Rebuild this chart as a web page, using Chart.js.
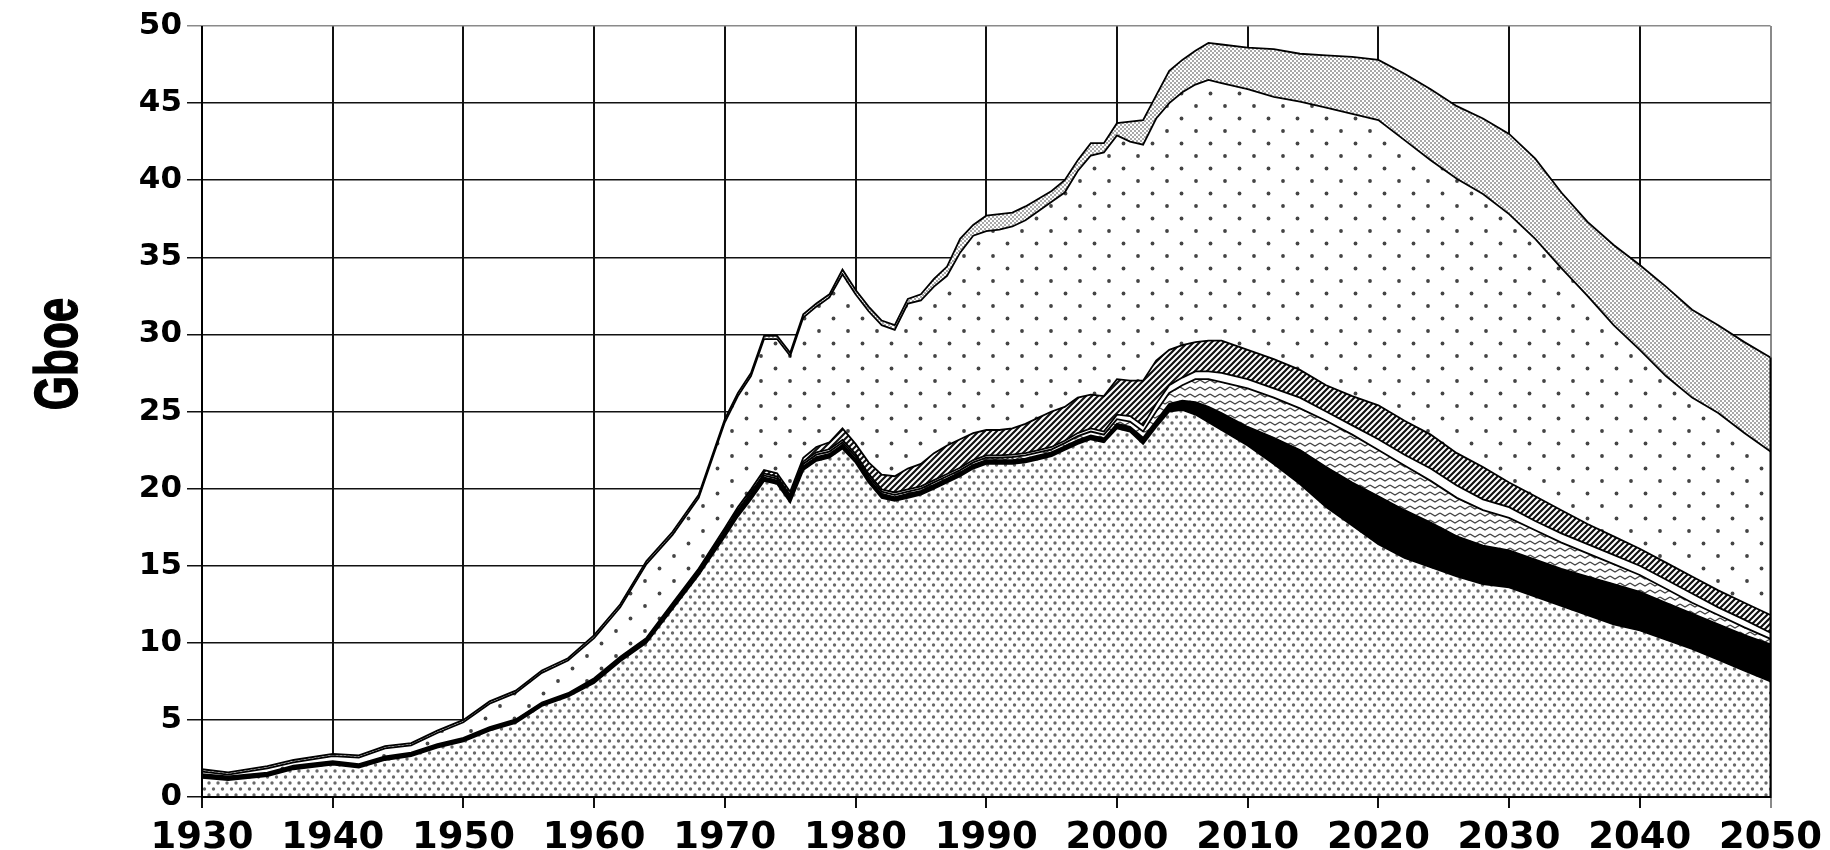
<!DOCTYPE html>
<html>
<head>
<meta charset="utf-8">
<title>Gboe</title>
<script src="https://cdn.jsdelivr.net/npm/chart.js@4.4.1/dist/chart.umd.min.js"></script>
<style>
  html, body { margin: 0; padding: 0; background: #fff; overflow: hidden; }
  #wrap { width: 1830px; height: 900px; position: relative; }
</style>
</head>
<body>
<div id="wrap"><canvas id="chart"></canvas></div>
<script>
// years shared by every layer (annual where the curves are jagged)
const years = [1930, 1932, 1935, 1937, 1940, 1942, 1944, 1946, 1948, 1950,
  1952, 1954, 1956, 1958, 1960, 1962, 1964, 1966, 1968,
  1970, 1971, 1972, 1973, 1974, 1975, 1976, 1977, 1978, 1979,
  1980, 1981, 1982, 1983, 1984, 1985, 1986, 1987, 1988, 1989,
  1990, 1991, 1992, 1993, 1994, 1995, 1996, 1997, 1998, 1999,
  2000, 2001, 2002, 2003, 2004, 2005, 2006, 2007, 2008,
  2010, 2012, 2014, 2016, 2018, 2020, 2022, 2024, 2026, 2028, 2030,
  2032, 2034, 2036, 2038, 2040, 2042, 2044, 2046, 2048, 2050];

// upper edge of each band, Gboe (bottom band first)
const denseTop = [1.25, 1.1, 1.35, 1.8, 2.1, 1.9, 2.4, 2.65, 3.2, 3.6, 4.3, 4.8, 5.9, 6.5, 7.4, 8.8, 10.0, 12.2, 14.4,
  16.9, 18.2, 19.3, 20.5, 20.3, 19.1, 21.2, 21.8, 22.0, 22.6,
  21.7, 20.4, 19.4, 19.2, 19.4, 19.6, 20.0, 20.4, 20.8, 21.3,
  21.6, 21.6, 21.6, 21.7, 21.9, 22.1, 22.5, 22.9, 23.2, 23.0,
  23.9, 23.7, 22.9, 24.0, 25.0, 25.1, 24.8, 24.3, 23.8,
  22.8, 21.6, 20.3, 18.8, 17.6, 16.4, 15.5, 14.9, 14.3, 13.8, 13.6, 13.0, 12.4, 11.8, 11.2, 10.8, 10.2, 9.6, 8.9, 8.2, 7.5];

const blackTop = [1.32, 1.17, 1.42, 1.87, 2.17, 1.97, 2.47, 2.72, 3.27, 3.67, 4.37, 4.87, 5.97, 6.57, 7.5, 8.9, 10.1, 12.32, 14.52,
  17.05, 18.38, 19.5, 20.72, 20.52, 19.32, 21.45, 22.05, 22.25, 22.85,
  21.95, 20.65, 19.65, 19.45, 19.65, 19.85, 20.25, 20.65, 21.05, 21.55,
  21.85, 21.85, 21.85, 21.95, 22.15, 22.35, 22.75, 23.15, 23.45, 23.25,
  24.2, 24.0, 23.3, 24.4, 25.5, 25.7, 25.6, 25.3, 24.9,
  24.0, 23.3, 22.5, 21.4, 20.4, 19.5, 18.6, 17.8, 16.9, 16.3, 16.0, 15.4, 14.8, 14.3, 13.8, 13.3, 12.6, 11.9, 11.2, 10.5, 9.9];

const wavyTop = [1.37, 1.22, 1.47, 1.92, 2.22, 2.02, 2.52, 2.77, 3.32, 3.72, 4.42, 4.92, 6.02, 6.62, 7.56, 8.96, 10.17, 12.4, 14.6,
  17.15, 18.5, 19.62, 20.85, 20.65, 19.45, 21.6, 22.2, 22.4, 23.0,
  22.1, 20.8, 19.8, 19.6, 19.8, 20.0, 20.4, 20.8, 21.2, 21.7,
  22.0, 22.0, 22.05, 22.15, 22.35, 22.55, 22.95, 23.4, 23.7, 23.5,
  24.5, 24.35, 23.7, 25.0, 26.2, 26.7, 27.1, 27.1, 26.9,
  26.5, 25.9, 25.2, 24.4, 23.5, 22.5, 21.5, 20.5, 19.4, 18.6, 18.1, 17.3, 16.5, 15.8, 15.1, 14.4, 13.5, 12.6, 11.8, 11.0, 10.25];

const whiteTop = [1.42, 1.27, 1.52, 1.97, 2.27, 2.07, 2.57, 2.82, 3.37, 3.77, 4.47, 4.97, 6.07, 6.67, 7.62, 9.02, 10.24, 12.48, 14.7,
  17.27, 18.62, 19.75, 20.98, 20.78, 19.58, 21.75, 22.35, 22.55, 23.15,
  22.25, 20.95, 19.95, 19.75, 19.95, 20.15, 20.55, 20.95, 21.35, 21.85,
  22.15, 22.15, 22.2, 22.3, 22.5, 22.7, 23.1, 23.6, 23.9, 23.7,
  24.8, 24.7, 24.1, 25.5, 26.7, 27.2, 27.6, 27.6, 27.5,
  27.1, 26.5, 25.9, 25.0, 24.1, 23.2, 22.2, 21.3, 20.2, 19.3, 18.8, 17.9, 17.1, 16.4, 15.7, 15.0, 14.1, 13.2, 12.3, 11.5, 10.65];

const hatchTop = [1.48, 1.33, 1.58, 2.03, 2.33, 2.13, 2.63, 2.88, 3.43, 3.83, 4.53, 5.03, 6.13, 6.73, 7.7, 9.1, 10.32, 12.58, 14.82,
  17.45, 18.8, 19.95, 21.2, 21.0, 19.8, 22.0, 22.7, 23.0, 23.9,
  22.9, 21.7, 20.9, 20.8, 21.3, 21.6, 22.3, 22.8, 23.2, 23.6,
  23.8, 23.8, 23.9, 24.2, 24.6, 25.0, 25.3, 25.9, 26.1, 26.0,
  27.1, 27.0, 27.0, 28.3, 29.0, 29.3, 29.5, 29.6, 29.6,
  29.0, 28.4, 27.7, 26.7, 26.0, 25.4, 24.4, 23.5, 22.3, 21.4, 20.4, 19.5, 18.6, 17.7, 16.9, 16.1, 15.2, 14.3, 13.4, 12.6, 11.8];

const sparseTop = [1.65, 1.45, 1.85, 2.25, 2.65, 2.55, 3.15, 3.35, 4.15, 4.85, 6.05, 6.75, 8.05, 8.85, 10.3, 12.3, 15.1, 17.0, 19.4,
  24.3, 26.0, 27.3, 29.7, 29.7, 28.6, 31.1, 31.8, 32.4, 33.9,
  32.6, 31.5, 30.6, 30.3, 32.0, 32.2, 33.1, 33.8, 35.3, 36.4,
  36.7, 36.8, 37.0, 37.4, 38.0, 38.6, 39.2, 40.6, 41.6, 41.8,
  42.9, 42.5, 42.3, 44.0, 45.0, 45.7, 46.2, 46.5, 46.3,
  45.9, 45.4, 45.1, 44.7, 44.3, 43.9, 42.6, 41.3, 40.1, 39.1, 37.8, 36.2, 34.3, 32.5, 30.6, 29.0, 27.3, 25.9, 24.9, 23.6, 22.4];

const grayTop = [1.8, 1.6, 2.0, 2.4, 2.8, 2.7, 3.3, 3.5, 4.3, 5.0, 6.2, 6.9, 8.2, 9.0, 10.5, 12.5, 15.3, 17.2, 19.6,
  24.5, 26.2, 27.5, 29.9, 29.9, 28.8, 31.3, 32.0, 32.6, 34.2,
  32.9, 31.8, 30.9, 30.6, 32.3, 32.6, 33.6, 34.4, 36.2, 37.1,
  37.7, 37.8, 37.9, 38.3, 38.8, 39.3, 40.0, 41.3, 42.4, 42.4,
  43.7, 43.8, 43.9, 45.5, 47.1, 47.8, 48.4, 48.9, 48.8,
  48.6, 48.5, 48.2, 48.1, 48.0, 47.8, 46.9, 45.9, 44.8, 44.0, 43.0, 41.4, 39.2, 37.3, 35.8, 34.5, 33.1, 31.6, 30.6, 29.5, 28.5];

const yTicks = { min: 0, max: 50, step: 5 };
const xTicks = { min: 1930, max: 2050, step: 10 };
const yTitle = 'Gboe';

const canvas = document.getElementById('chart');
const mainCtx = canvas.getContext('2d');

// small tiles used as fill patterns (black and white print look)
function makePattern(w, h, draw) {
  const tile = document.createElement('canvas');
  tile.width = w;
  tile.height = h;
  const g = tile.getContext('2d');
  g.fillStyle = '#fff';
  g.fillRect(0, 0, w, h);
  draw(g);
  return mainCtx.createPattern(tile, 'repeat');
}

function dot(g, x, y, r, col) {
  g.fillStyle = col;
  g.beginPath();
  g.arc(x, y, r, 0, Math.PI * 2);
  g.fill();
}

const denseDots = makePattern(9, 12, g => {
  dot(g, 2, 3, 1.7, '#6a6a6a');
  dot(g, 6.5, 9, 1.7, '#6a6a6a');
});

const wavyLines = makePattern(10, 7, g => {
  g.strokeStyle = '#444';
  g.lineWidth = 1.4;
  g.beginPath();
  g.moveTo(0, 2);
  g.lineTo(5, 5);
  g.lineTo(10, 2);
  g.stroke();
});

const hatchLines = makePattern(6, 6, g => {
  g.strokeStyle = '#111';
  g.lineWidth = 2.2;
  g.beginPath();
  g.moveTo(-1, 7); g.lineTo(7, -1);
  g.moveTo(-4, 4); g.lineTo(4, -4);
  g.moveTo(2, 10); g.lineTo(10, 2);
  g.stroke();
});

const sparseDots = makePattern(29, 25, g => {
  dot(g, 7, 6, 1.9, '#444');
  dot(g, 21.5, 18.5, 1.9, '#444');
});

const grayStipple = makePattern(4, 4, g => {
  g.fillStyle = '#a8a8a8';
  g.fillRect(0, 0, 2, 2);
  g.fillRect(2, 2, 2, 2);
});

function toPoints(vals) {
  return years.map((yr, i) => ({ x: yr, y: vals[i] }));
}

function band(vals, fill, bg) {
  return {
    data: toPoints(vals),
    fill: fill,
    backgroundColor: bg,
    borderColor: '#000',
    borderWidth: 1.8,
    pointRadius: 0,
    tension: 0
  };
}

// frame lines that sit on top of the fills, plus the stretched axis title
const overlay = {
  id: 'overlay',
  afterDatasetsDraw(chart) {
    const { ctx, scales: { x, y } } = chart;
    const left = x.getPixelForValue(xTicks.min);
    const right = x.getPixelForValue(xTicks.max);
    const bottom = y.getPixelForValue(0);
    ctx.save();
    ctx.strokeStyle = '#000';
    ctx.lineWidth = 2;
    ctx.beginPath();
    ctx.moveTo(left, y.getPixelForValue(yTicks.max));
    ctx.lineTo(left, bottom);
    ctx.lineTo(right, bottom);
    ctx.lineTo(right, y.getPixelForValue(grayTop[grayTop.length - 1]));
    ctx.stroke();
    ctx.restore();
  },
  afterDraw(chart) {
    const ctx = chart.ctx;
    ctx.save();
    ctx.translate(77, 354);
    ctx.rotate(-Math.PI / 2);
    ctx.scale(1, 1.4);
    ctx.font = 'bold 44px "Liberation Sans", Arial, sans-serif';
    ctx.fillStyle = '#000';
    ctx.strokeStyle = '#000';
    ctx.lineWidth = 1;
    ctx.textAlign = 'center';
    ctx.textBaseline = 'alphabetic';
    ctx.fillText(yTitle, 0, 0);
    ctx.strokeText(yTitle, 0, 0);
    ctx.restore();
  }
};

new Chart(canvas, {
  type: 'line',
  data: {
    datasets: [
      band(denseTop, 'origin', denseDots),
      band(blackTop, '-1', '#000'),
      band(wavyTop, '-1', wavyLines),
      band(whiteTop, '-1', '#fff'),
      band(hatchTop, '-1', hatchLines),
      band(sparseTop, '-1', sparseDots),
      band(grayTop, '-1', grayStipple)
    ]
  },
  options: {
    responsive: true,
    maintainAspectRatio: false,
    devicePixelRatio: 1,
    animation: false,
    layout: {
      padding: { left: 0, right: 57, top: 26, bottom: 0 }
    },
    plugins: {
      legend: { display: false },
      tooltip: { enabled: false }
    },
    scales: {
      x: {
        type: 'linear',
        min: xTicks.min,
        max: xTicks.max,
        afterFit: function (scale) { scale.height = 103; },
        ticks: {
          stepSize: xTicks.step,
          color: '#000',
          padding: 8,
          maxRotation: 0,
          font: { family: '"DejaVu Sans", sans-serif', size: 37, weight: 'bold' },
          callback: v => String(v)
        },
        grid: {
          color: c => (c.tick && c.tick.value === xTicks.max) ? '#8a8a8a' : '#111',
          lineWidth: 2,
          tickLength: 11
        },
        border: { display: false }
      },
      y: {
        min: yTicks.min,
        max: yTicks.max,
        afterFit: function (scale) { scale.width = 202; },
        ticks: {
          stepSize: yTicks.step,
          color: '#000',
          padding: 5,
          font: { family: '"DejaVu Sans", sans-serif', size: 31, weight: 'bold' }
        },
        grid: {
          color: c => (c.tick && c.tick.value === yTicks.max) ? '#8a8a8a' : '#111',
          lineWidth: 1.5,
          tickLength: 15
        },
        border: { display: false }
      }
    }
  },
  plugins: [overlay]
});
</script>
</body>
</html>
